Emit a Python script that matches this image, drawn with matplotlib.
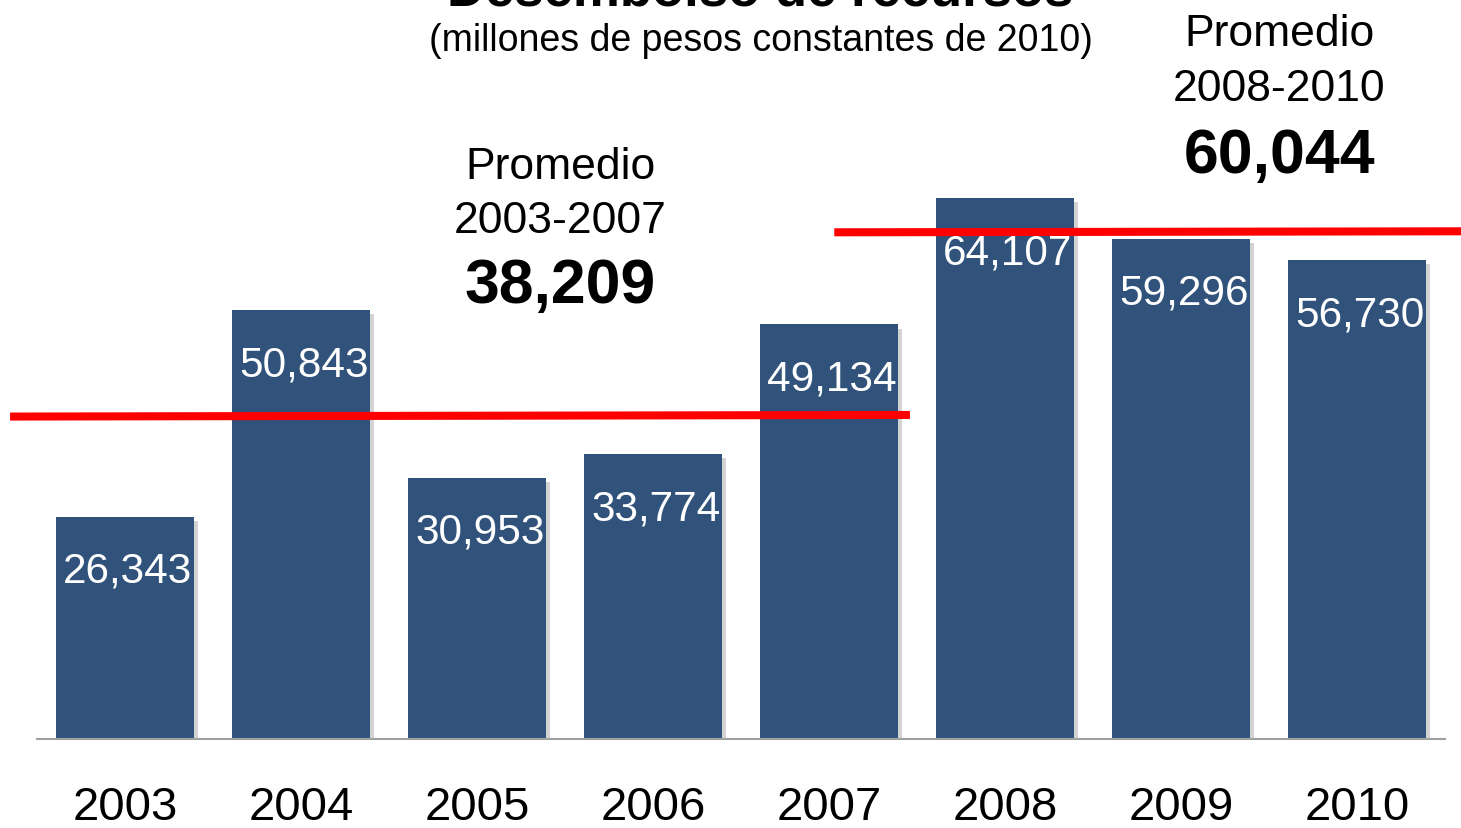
import matplotlib
matplotlib.use("Agg")
import matplotlib.pyplot as plt
import matplotlib.patheffects as pe

plt.rcParams['font.family'] = ['Liberation Sans', 'DejaVu Sans']

# data
years = ['2003', '2004', '2005', '2006', '2007', '2008', '2009', '2010']
desembolsos = [26343, 50843, 30953, 33774, 49134, 64107, 59296, 56730]
promedio_1 = 38209   # 2003-2007
promedio_2 = 60044   # 2008-2010

bar_color = '#30527B'

fig = plt.figure(figsize=(14.61, 8.29), dpi=100)
ax = fig.add_axes([37 / 1461, 89 / 829, (1445 - 37) / 1461, 740 / 829])

x = range(len(years))
bars = ax.bar(x, desembolsos, width=0.78, color=bar_color, zorder=2)
for b in bars:
    b.set_path_effects([pe.SimplePatchShadow(offset=(3, -3), shadow_rgbFace='#A8A8A8', alpha=0.5),
                        pe.Normal()])

ax.set_xlim(-0.5, 7.5)
ax.set_ylim(0, 87690)

# value labels inside bars
for xi, v in zip(x, desembolsos):
    ax.annotate(f'{v:,}', (xi, v), xytext=(2, -39), textcoords='offset points',
                ha='center', va='center', color='white', fontsize=30.5, zorder=4)

# average lines
ax.plot([-0.653, 4.46], [promedio_1, promedio_1 * 1.005], color='#FF0000', lw=5.8,
        solid_capstyle='butt', clip_on=False, zorder=3)
ax.plot([4.03, 7.65], [promedio_2, promedio_2 * 1.002], color='#FF0000', lw=5.8,
        solid_capstyle='butt', clip_on=False, zorder=3)

# average annotations
ax.text(2.475, 67900, 'Promedio', ha='center', va='center', fontsize=32)
ax.text(2.475, 61500, '2003-2007', ha='center', va='center', fontsize=32)
ax.text(2.475, 53700, f'{promedio_1:,}', ha='center', va='center', fontsize=45, fontweight='bold')
ax.text(6.56, 83550, 'Promedio', ha='center', va='center', fontsize=32, clip_on=False)
ax.text(6.56, 77030, '2008-2010', ha='center', va='center', fontsize=32, clip_on=False)
ax.text(6.56, 69200, f'{promedio_2:,}', ha='center', va='center', fontsize=45, fontweight='bold')

# axes styling
for s in ['top', 'right', 'left']:
    ax.spines[s].set_visible(False)
ax.spines['bottom'].set_color('#A0A0A0')
ax.spines['bottom'].set_linewidth(1.5)
ax.set_yticks([])
ax.set_xticks(list(x))
ax.set_xticklabels(years, fontsize=34)
ax.tick_params(axis='x', length=0, pad=33)

# titles (title is cut by the top edge as in the original)
fig.text(0.5205, 1 - 6 / 829, 'Desembolso de recursos', ha='center', va='baseline',
         fontsize=38, fontweight='bold')
fig.text(0.5205, 1 - 41 / 829, '(millones de pesos constantes de 2010)', ha='center',
         va='center', fontsize=27)

fig.savefig('out.png', dpi=100)
